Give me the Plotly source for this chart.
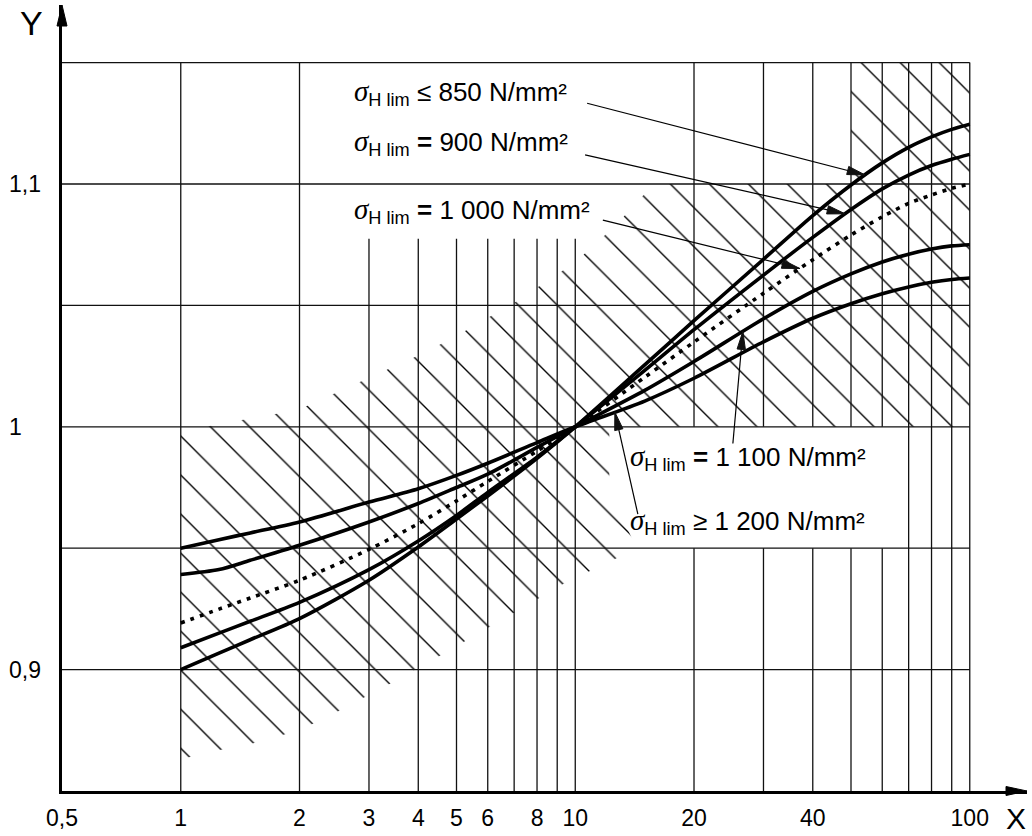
import numpy as np
import plotly.graph_objects as go

# ---------------- data ----------------
speed = [1, 1.25, 1.5, 2, 3, 4, 5, 6, 8, 10, 15, 20, 30, 40, 50, 60, 70, 80, 90, 100]

zv_850 = [0.900, 0.9068, 0.9123, 0.921, 0.9368, 0.9505, 0.962, 0.9715, 0.987, 1.0,
          1.0255, 1.0437, 1.069, 1.087, 1.0996, 1.1087, 1.1151, 1.1194, 1.1225, 1.1246]
zv_900 = [0.909, 0.915, 0.9199, 0.9277, 0.9412, 0.953, 0.9635, 0.973, 0.9875, 1.0,
          1.0232, 1.040, 1.0625, 1.078, 1.0895, 1.098, 1.1037, 1.1076, 1.1102, 1.1122]
zv_1000 = [0.9192, 0.9249, 0.9295, 0.9368, 0.9495, 0.9601, 0.9695, 0.9775, 0.990, 1.0,
           1.0204, 1.0349, 1.055, 1.0688, 1.079, 1.0865, 1.092, 1.0955, 1.0982, 1.100]
zv_1100 = [0.9392, 0.9412, 0.945, 0.9512, 0.9608, 0.9684, 0.975, 0.9805, 0.9915, 1.0,
           1.015, 1.0269, 1.0445, 1.0558, 1.063, 1.0679, 1.0711, 1.0732, 1.0745, 1.075]
zv_1200 = [0.950, 0.9535, 0.9563, 0.9608, 0.969, 0.9745, 0.980, 0.985, 0.9935, 1.0,
           1.0106, 1.020, 1.035, 1.0447, 1.0507, 1.0548, 1.0576, 1.0595, 1.0607, 1.0613]

curve_text = [
    "≤ 850 N/mm²",
    "<b>=</b> 900 N/mm²",
    "<b>=</b> 1 000 N/mm²",
    "<b>=</b> 1 100 N/mm²",
    "≥ 1 200 N/mm²",
]

# hatched zone outline
hatch_x = [1, 1.157, 1.337, 1.55, 1.795, 2.06, 4, 4.95, 6.05, 6.75, 10, 12.67, 14.7, 15.97,
           50, 50, 100, 100, 12.2, 12.2, 14.3, 12.9, 11.6, 10.43, 9.37, 4.61, 3.4, 2.48,
           2.0, 1.52, 1.15, 1]
hatch_y = [1.0, 1.0, 1.002, 1.004, 1.0057, 1.0082, 1.0294, 1.037, 1.0452, 1.0493, 1.0678,
           1.083, 1.0945, 1.1, 1.1, 1.15, 1.15, 1.0, 1.0, 0.974, 0.95, 0.9463, 0.943, 0.939,
           0.9355, 0.9063, 0.8943, 0.8824, 0.875, 0.8696, 0.8657, 0.863]

# grid
grid_y = [0.9, 0.95, 1.0, 1.05, 1.1, 1.15]
grid_x_full = [1, 2, 70, 80, 90, 100]
grid_x_short = [3, 4, 5, 6, 7, 8, 9, 10]
grid_x_split = [20, 30, 40, 50, 60]

x_ticks = [0.5, 1, 2, 3, 4, 5, 6, 8, 10, 20, 40, 100]
x_ticktext = ["0,5", "1", "2", "3", "4", "5", "6", "8", "10", "20", "40", "100"]
y_ticks = [0.9, 1.0, 1.1]
y_ticktext = ["0,9", "1", "1,1"]

# ---------------- figure ----------------
W, H = 1032, 836
M = dict(l=62, r=5, t=5, b=45)
PX_PER_DECADE = 394.5
PX_PER_UNIT = 2428.0
x_range = [np.log10(0.5), np.log10(0.5) + (W - M["l"] - M["r"]) / PX_PER_DECADE]
y_range = [0.85, 0.85 + (H - M["t"] - M["b"]) / PX_PER_UNIT]


def offset(x, y, dx, up):
    """Point shifted by (dx right, up) screen pixels from data point (x, y)."""
    return x * 10 ** (dx / PX_PER_DECADE), y + up / PX_PER_UNIT


fig = go.Figure()

# hatched zone
fig.add_trace(go.Scatter(
    x=hatch_x, y=hatch_y, mode="lines", fill="toself",
    line=dict(width=0, color="rgba(0,0,0,0)"),
    fillcolor="rgba(0,0,0,0)",
    fillpattern=dict(shape="\\", fgcolor="black", bgcolor="rgba(0,0,0,0)",
                     size=27.6, solidity=0.05, fillmode="replace"),
    hoverinfo="skip", showlegend=False))

# grid lines
gx, gy = [], []
for yv in grid_y:
    gx += [0.5, 100, None]
    gy += [yv, yv, None]
for xv in grid_x_full:
    gx += [xv, xv, None]
    gy += [0.85, 1.15, None]
for xv in grid_x_short:
    gx += [xv, xv, None]
    gy += [0.85, 1.0775, None]
for xv in grid_x_split:
    gx += [xv, xv, None, xv, xv, None]
    gy += [0.85, 0.95, None, 1.0, 1.15, None]
fig.add_trace(go.Scatter(x=gx, y=gy, mode="lines", line=dict(color="#111", width=1.3),
                         hoverinfo="skip", showlegend=False))

# curves
curves = [zv_850, zv_900, zv_1000, zv_1100, zv_1200]
for i, ys in enumerate(curves):
    dash = "4px,6px" if i == 2 else "solid"
    fig.add_trace(go.Scatter(
        x=speed, y=ys, mode="lines",
        line=dict(color="black", width=3.6, dash=dash, shape="spline", smoothing=0.8),
        hoverinfo="skip", showlegend=False))


def on_curve(xq, ys):
    return float(np.interp(np.log10(xq), np.log10(speed), ys))


# leader lines: tip on the curve, tail given as pixel offset (right, up)
tip_x = [54.3, 48.3, 37.1, 26.6, 12.6]
tail_dx = [-278, -260, -197, -10, 23]
tail_up = [71.7, 59, 48.4, -112, -102]
HEAD_LEN, HEAD_HALF = 18.0, 4.2

for i in range(5):
    tx = tip_x[i]
    ty = on_curve(tx, curves[i])
    ex, ey = offset(tx, ty, tail_dx[i], tail_up[i])
    fig.add_trace(go.Scatter(x=[ex, tx], y=[ey, ty], mode="lines",
                             line=dict(color="black", width=1.2),
                             hoverinfo="skip", showlegend=False))
    n = np.hypot(tail_dx[i], tail_up[i])
    ux, uy = tail_dx[i] / n, tail_up[i] / n
    bx, by = ux * HEAD_LEN, uy * HEAD_LEN
    c1 = offset(tx, ty, bx - uy * HEAD_HALF, by + ux * HEAD_HALF)
    c2 = offset(tx, ty, bx + uy * HEAD_HALF, by - ux * HEAD_HALF)
    fig.add_trace(go.Scatter(x=[tx, c1[0], c2[0], tx], y=[ty, c1[1], c2[1], ty],
                             mode="lines", fill="toself", fillcolor="#111",
                             line=dict(color="#111", width=1),
                             hoverinfo="skip", showlegend=False))

# axis arrow heads
shapes = [
    dict(type="path", xref="paper", yref="paper", xsizemode="pixel", ysizemode="pixel",
         xanchor=0, yanchor=1, path="M0,0 L-5,-21 L5,-21 Z",
         fillcolor="black", line=dict(color="black", width=1)),
    dict(type="path", xref="paper", yref="paper", xsizemode="pixel", ysizemode="pixel",
         xanchor=1, yanchor=0, path="M0,0 L-21,4.5 L-21,-4.5 Z",
         fillcolor="black", line=dict(color="black", width=1)),
]

# curve labels
label_x = [2.72, 2.72, 2.72, 13.6, 13.6]
label_y = [1.1375, 1.1169, 1.0889, 0.9873, 0.9608]
sigma = ("<i><span style=\"font-family:Liberation Serif;font-size:29px\">σ</span></i>"
         "<sub>H lim</sub> ")
annotations = []
for i in range(5):
    annotations.append(dict(x=np.log10(label_x[i]), y=label_y[i], xref="x", yref="y",
                            text=sigma + curve_text[i], showarrow=False,
                            xanchor="left", yanchor="middle",
                            font=dict(size=26, color="black", family="Liberation Sans")))

# y tick labels (left aligned)
for yv, t in zip(y_ticks, y_ticktext):
    annotations.append(dict(x=-0.0575, y=yv, xref="paper", yref="y", text=t, showarrow=False,
                            xanchor="left", yanchor="middle",
                            font=dict(size=23, color="black", family="Liberation Sans")))

# axis names
annotations.append(dict(x=-0.0316, y=0.9777, xref="paper", yref="paper", text="Y",
                        showarrow=False, xanchor="center", yanchor="middle",
                        font=dict(size=34, color="black", family="Liberation Sans")))
annotations.append(dict(x=0.9886, y=-0.0356, xref="paper", yref="paper", text="X",
                        showarrow=False, xanchor="center", yanchor="middle",
                        font=dict(size=30, color="black", family="Liberation Sans")))

fig.update_layout(
    width=W, height=H, margin=M,
    paper_bgcolor="white", plot_bgcolor="white",
    shapes=shapes, annotations=annotations,
    xaxis=dict(type="log", range=x_range, showgrid=False, zeroline=False,
               showline=True, linecolor="black", linewidth=2.5,
               tickvals=x_ticks, ticktext=x_ticktext, ticks="", ticklabelstandoff=5,
               tickfont=dict(size=23, color="black", family="Liberation Sans")),
    yaxis=dict(range=y_range, showgrid=False, zeroline=False, showticklabels=False,
               showline=True, linecolor="black", linewidth=2.5, ticks=""),
    showlegend=False,
)

fig.write_html("out.html")
